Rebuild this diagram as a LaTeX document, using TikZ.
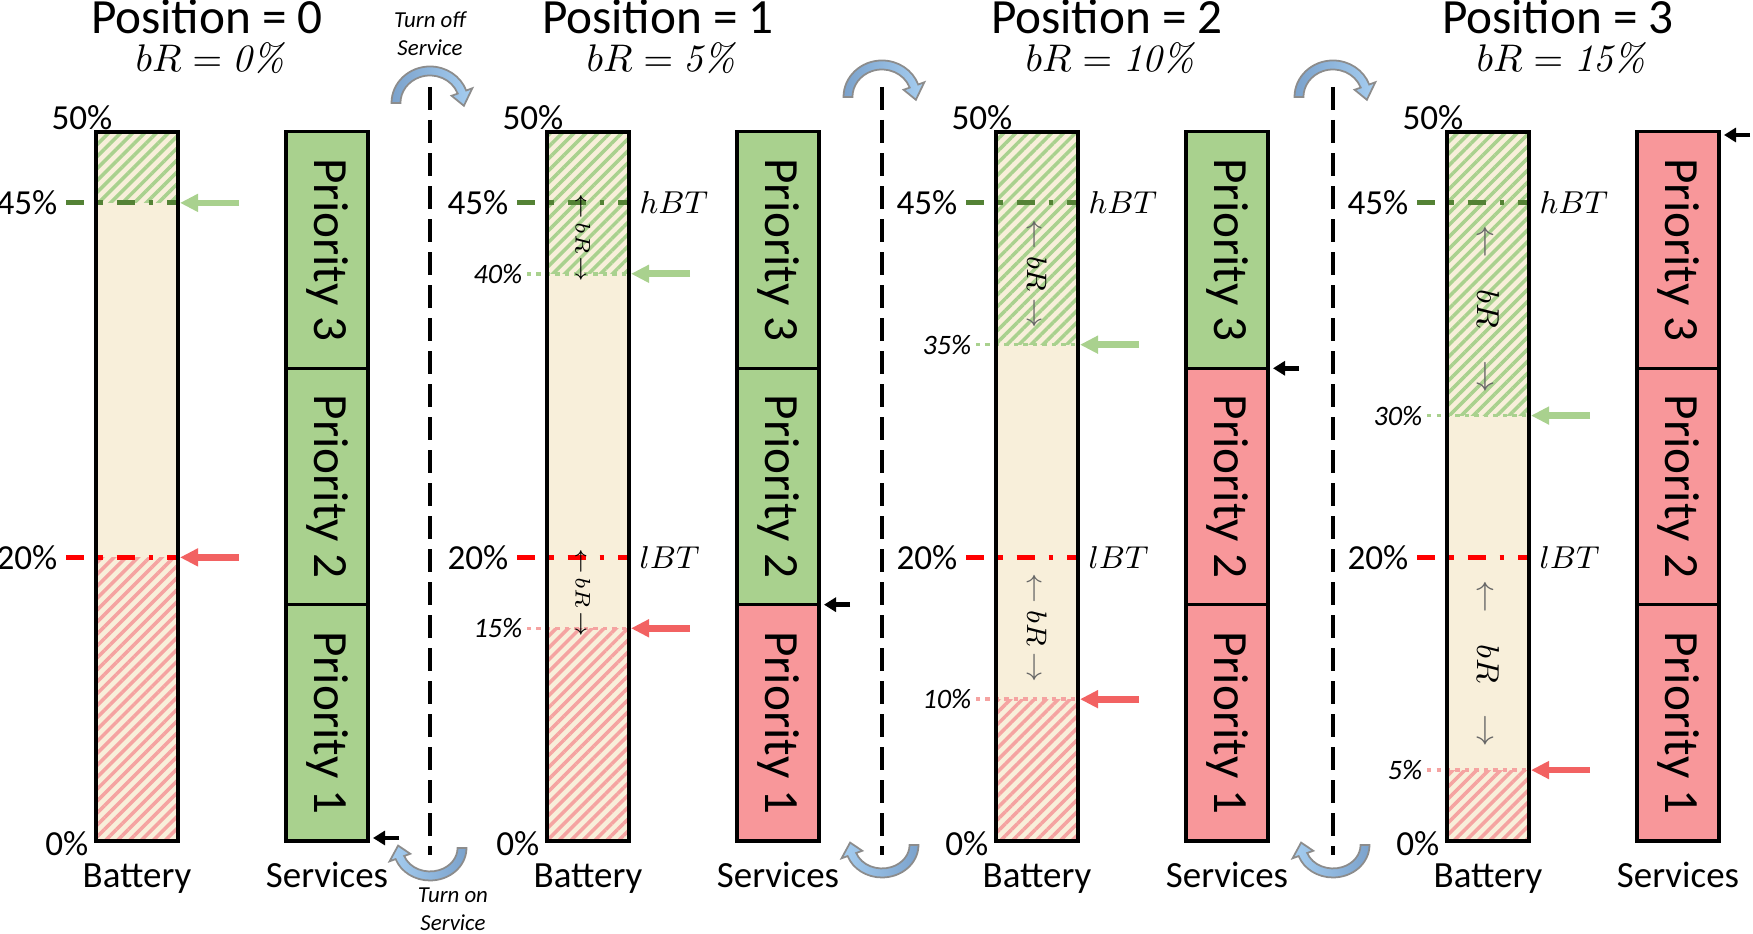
\documentclass[tikz,border=0pt]{standalone}
\usepackage{fontspec}
\setmainfont{Carlito}
\newfontfamily\lmfont{lmroman10-regular.otf}[ItalicFont=lmroman10-italic.otf]
\usetikzlibrary{arrows.meta,patterns.meta}
\definecolor{battfill}{HTML}{F8EFDA}
\definecolor{prgreen}{HTML}{A9D18E}
\definecolor{prred}{HTML}{F8979A}
\definecolor{hgreen}{HTML}{A9D18E}
\definecolor{hred}{HTML}{F5A3A1}
\definecolor{hbtgreen}{HTML}{548235}
\definecolor{lbtred}{HTML}{FF0000}
\definecolor{arred}{HTML}{F26262}
\definecolor{turndark}{HTML}{7BA2CC}
\definecolor{turnlight}{HTML}{A5CDF0}
\definecolor{turnline}{HTML}{8C8C8C}
\begin{document}
\begin{tikzpicture}[x=0.01cm,y=0.01cm,
 title/.style={anchor=base,inner sep=0,font=\fontsize{14}{17}\selectfont},
 sub/.style={anchor=base,inner sep=0,font=\fontsize{11}{13}\selectfont},
 pct/.style={font=\fontsize{10}{12}\selectfont,inner sep=0},
 ipct/.style={anchor=east,font=\fontsize{8}{10}\selectfont\itshape,inner sep=0},
 thr/.style={anchor=west,font=\fontsize{9}{11}\selectfont,inner sep=0},
 lbl/.style={anchor=base,inner sep=0,font=\fontsize{10.5}{13}\selectfont},
 prio/.style={draw,line width=0.9pt,rotate=-90,minimum width=2.363cm,minimum height=0.82cm,inner sep=0,font=\fontsize{14}{17}\selectfont},
 box/.style={draw,line width=0.9pt},
 ghatch/.style={pattern={Lines[angle=45,distance=2.4pt,line width=1pt]},pattern color=hgreen},
 rhatch/.style={pattern={Lines[angle=45,distance=2.4pt,line width=1pt]},pattern color=hred},
 hbt/.style={hbtgreen,line width=1.4pt,dash pattern=on 0.18cm off 0.14cm on 0.045cm off 0.14cm},
 lbt/.style={lbtred,line width=1.4pt,dash pattern=on 0.18cm off 0.14cm on 0.045cm off 0.14cm},
 gdot/.style={hgreen,line width=1pt,dash pattern=on 1.2pt off 1.5pt},
 rdot/.style={hred,line width=1pt,dash pattern=on 1.2pt off 1.5pt},
 garrow/.style={hgreen,line width=1.9pt,-{Triangle[length=0.18cm,width=0.17cm]}},
 rarrow/.style={arred,line width=1.9pt,-{Triangle[length=0.18cm,width=0.17cm]}},
 karrow/.style={black,line width=1.4pt,-{Triangle[length=0.12cm,width=0.14cm]}},
 sep/.style={line width=0.9pt,dash pattern=on 0.23cm off 0.1cm},
 brs/.style={rotate=-90,inner sep=0},
 turn/.style={align=center,font=\fontsize{6.5}{8}\selectfont\itshape,inner sep=0},
 turnoff/.pic={\path[draw=turnline,line width=0.5pt,left color=turndark,right color=turnlight]
   (-38.5,0) arc[start angle=180,end angle=20,x radius=0.385cm,y radius=0.365cm]
   -- (42.3,14.7) -- (33.9,-2.8) -- (21.6,7.2) -- (27.7,9.4)
   arc[start angle=20,end angle=180,x radius=0.295cm,y radius=0.275cm] -- cycle;},
 turnon/.pic={\path[draw=turnline,line width=0.5pt,left color=turnlight,right color=turndark]
   (36.5,0) arc[start angle=0,end angle=-160,x radius=0.365cm,y radius=0.325cm]
   -- (-40.4,-13.3) -- (-31.9,2.4) -- (-19.7,-5.8) -- (-25.8,-8.0)
   arc[start angle=-160,end angle=0,x radius=0.275cm,y radius=0.235cm] -- cycle;}]

\useasboundingbox (0,0) rectangle (1753,934);

% Position 0
\draw (207,900) node[title] (t0) {Position = 0};
\draw (210,862) node[sub] (r0) {$bR = \mbox{\lmfont\itshape 0\%}$};
\fill[battfill] (96,93) rectangle (178,802);
\fill[ghatch] (96,731.1) rectangle (178,802);
\fill[rhatch] (96,93) rectangle (178,376.6);
\draw[hbt] (66,731.1) -- (178,731.1);
\draw[lbt] (66,376.6) -- (178,376.6);
\draw[box] (96,93) rectangle (178,802);
\draw (113,804) node[pct,anchor=base east] (a0) {50\%};
\draw (58,731.1) node[pct,anchor=east] (h0) {45\%};
\draw (58,376.6) node[pct,anchor=east] (l0) {20\%};
\draw (89,90) node[pct,anchor=east] (z0) {0\%};
\draw[garrow] (239,731.1) -- (180,731.1);
\draw[rarrow] (239,376.6) -- (180,376.6);
\draw (327,683.85) node[prio,fill=prgreen] (s03) {Priority 3};
\draw (327,447.5) node[prio,fill=prgreen] (s02) {Priority 2};
\draw (327,211.15) node[prio,fill=prgreen] (s01) {Priority 1};
\draw[karrow] (399,96) -- (373,96);
\draw (137,46) node[lbl] (b0) {Battery};
\draw (327,46) node[lbl] (v0) {Services};

% Position 1
\draw (658,900) node[title] (t1) {Position = 1};
\draw (661,862) node[sub] (r1) {$bR = \mbox{\lmfont\itshape 5\%}$};
\fill[battfill] (547,93) rectangle (629,802);
\fill[ghatch] (547,660.2) rectangle (629,802);
\fill[rhatch] (547,93) rectangle (629,305.7);
\draw[gdot] (527,660.2) -- (629,660.2);
\draw[rdot] (527,305.7) -- (629,305.7);
\draw[hbt] (517,731.1) -- (629,731.1);
\draw[lbt] (517,376.6) -- (629,376.6);
\draw[box] (547,93) rectangle (629,802);
\draw (564,804) node[pct,anchor=base east] (a1) {50\%};
\draw (509,731.1) node[pct,anchor=east] (h1) {45\%};
\draw (509,376.6) node[pct,anchor=east] (l1) {20\%};
\draw (540,90) node[pct,anchor=east] (z1) {0\%};
\draw (523,660.2) node[ipct] (g1) {40\%};
\draw (523,305.7) node[ipct] (d1) {15\%};
\draw (639,731.1) node[thr] (hb1) {$hBT$};
\draw (639,376.6) node[thr] (lb1) {$lBT$};
\draw (583,695.7) node[brs,font=\fontsize{6}{7}\selectfont] (m1a) {$\leftarrow\!bR\!\rightarrow$};
\draw (583,341.2) node[brs,font=\fontsize{6}{7}\selectfont] (m1b) {$\leftarrow\!bR\!\rightarrow$};
\draw[garrow] (690,660.2) -- (631,660.2);
\draw[rarrow] (690,305.7) -- (631,305.7);
\draw (778,683.85) node[prio,fill=prgreen] (s13) {Priority 3};
\draw (778,447.5) node[prio,fill=prgreen] (s12) {Priority 2};
\draw (778,211.15) node[prio,fill=prred] (s11) {Priority 1};
\draw[karrow] (850,329.3) -- (824,329.3);
\draw (588,46) node[lbl] (b1) {Battery};
\draw (778,46) node[lbl] (v1) {Services};

% Position 2
\draw (1107,900) node[title] (t2) {Position = 2};
\draw (1110,862) node[sub] (r2) {$bR = \mbox{\lmfont\itshape 10\%}$};
\fill[battfill] (996,93) rectangle (1078,802);
\fill[ghatch] (996,589.3) rectangle (1078,802);
\fill[rhatch] (996,93) rectangle (1078,234.8);
\draw[gdot] (976,589.3) -- (1078,589.3);
\draw[rdot] (976,234.8) -- (1078,234.8);
\draw[hbt] (966,731.1) -- (1078,731.1);
\draw[lbt] (966,376.6) -- (1078,376.6);
\draw[box] (996,93) rectangle (1078,802);
\draw (1013,804) node[pct,anchor=base east] (a2) {50\%};
\draw (958,731.1) node[pct,anchor=east] (h2) {45\%};
\draw (958,376.6) node[pct,anchor=east] (l2) {20\%};
\draw (989,90) node[pct,anchor=east] (z2) {0\%};
\draw (972,589.3) node[ipct] (g2) {35\%};
\draw (972,234.8) node[ipct] (d2) {10\%};
\draw (1088,731.1) node[thr] (hb2) {$hBT$};
\draw (1088,376.6) node[thr] (lb2) {$lBT$};
\draw (1037,660.2) node[brs,font=\fontsize{8.5}{10}\selectfont] (m2a) {$\textcolor{black!60}{\leftarrow}\ bR\ \textcolor{black!60}{\rightarrow}$};
\draw (1037,305.7) node[brs,font=\fontsize{8.5}{10}\selectfont] (m2b) {$\textcolor{black!60}{\leftarrow}\ bR\ \textcolor{black!60}{\rightarrow}$};
\draw[garrow] (1139,589.3) -- (1080,589.3);
\draw[rarrow] (1139,234.8) -- (1080,234.8);
\draw (1227,683.85) node[prio,fill=prgreen] (s23) {Priority 3};
\draw (1227,447.5) node[prio,fill=prred] (s22) {Priority 2};
\draw (1227,211.15) node[prio,fill=prred] (s21) {Priority 1};
\draw[karrow] (1299,565.7) -- (1273,565.7);
\draw (1037,46) node[lbl] (b2) {Battery};
\draw (1227,46) node[lbl] (v2) {Services};

% Position 3
\draw (1558,900) node[title] (t3) {Position = 3};
\draw (1561,862) node[sub] (r3) {$bR = \mbox{\lmfont\itshape 15\%}$};
\fill[battfill] (1447,93) rectangle (1529,802);
\fill[ghatch] (1447,518.4) rectangle (1529,802);
\fill[rhatch] (1447,93) rectangle (1529,163.9);
\draw[gdot] (1427,518.4) -- (1529,518.4);
\draw[rdot] (1427,163.9) -- (1529,163.9);
\draw[hbt] (1417,731.1) -- (1529,731.1);
\draw[lbt] (1417,376.6) -- (1529,376.6);
\draw[box] (1447,93) rectangle (1529,802);
\draw (1464,804) node[pct,anchor=base east] (a3) {50\%};
\draw (1409,731.1) node[pct,anchor=east] (h3) {45\%};
\draw (1409,376.6) node[pct,anchor=east] (l3) {20\%};
\draw (1440,90) node[pct,anchor=east] (z3) {0\%};
\draw (1423,518.4) node[ipct] (g3) {30\%};
\draw (1423,163.9) node[ipct] (d3) {5\%};
\draw (1539,731.1) node[thr] (hb3) {$hBT$};
\draw (1539,376.6) node[thr] (lb3) {$lBT$};
\draw (1488,624.75) node[brs,font=\fontsize{9}{11}\selectfont] (m3a) {$\textcolor{black!60}{\leftarrow}\quad bR\quad\textcolor{black!60}{\rightarrow}$};
\draw (1488,270.25) node[brs,font=\fontsize{9}{11}\selectfont] (m3b) {$\textcolor{black!60}{\leftarrow}\quad bR\quad\textcolor{black!60}{\rightarrow}$};
\draw[garrow] (1590,518.4) -- (1531,518.4);
\draw[rarrow] (1590,163.9) -- (1531,163.9);
\draw (1678,683.85) node[prio,fill=prred] (s33) {Priority 3};
\draw (1678,447.5) node[prio,fill=prred] (s32) {Priority 2};
\draw (1678,211.15) node[prio,fill=prred] (s31) {Priority 1};
\draw[karrow] (1750,799) -- (1724,799);
\draw (1488,46) node[lbl] (b3) {Battery};
\draw (1678,46) node[lbl] (v3) {Services};

% separateurs et fleches tournantes
\draw[sep] (430,847) -- (430,79);
\draw[sep] (882,847) -- (882,79);
\draw[sep] (1333,847) -- (1333,79);
\pic at (430,831) {turnoff};
\pic at (430,86) {turnon};
\pic at (882,837) {turnoff};
\pic at (882,89) {turnon};
\pic at (1333,837) {turnoff};
\pic at (1333,89) {turnon};
\draw (430,900.5) node[turn] (off) {Turn off\\Service};
\draw (453,25) node[turn] (on) {Turn on\\Service};
\end{tikzpicture}
\end{document}
